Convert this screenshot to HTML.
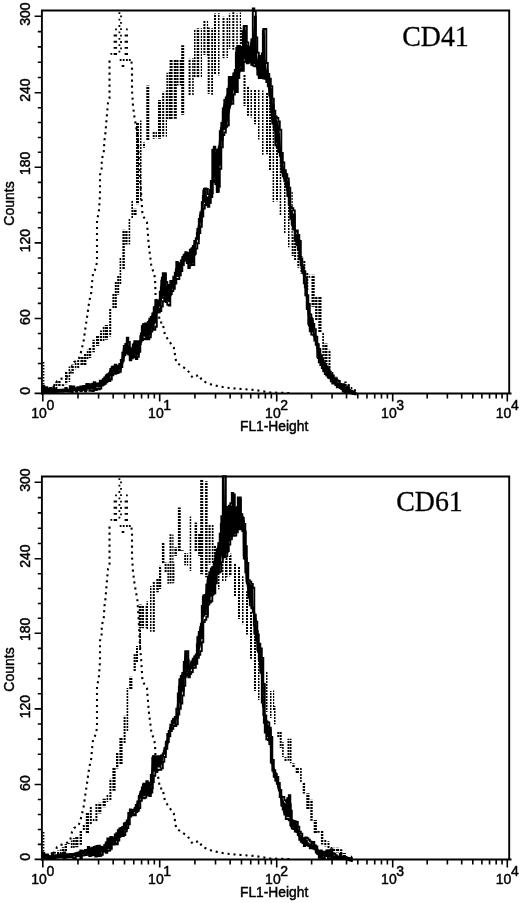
<!DOCTYPE html>
<html><head><meta charset="utf-8"><title>CD41 / CD61 flow cytometry histograms</title>
<style>
html,body{margin:0;padding:0;background:#fff;}
svg{display:block;filter:grayscale(100%);}
.ax{fill:none;stroke:#000;stroke-width:1.9;}
.tk{fill:none;stroke:#000;stroke-width:1.6;}
.c1{fill:none;stroke:#000;stroke-width:2.1;stroke-dasharray:2.1 3.9;}
.c2{fill:url(#stripes);stroke:none;}
.c1d{fill:#000;stroke:none;}
.c3f{fill:#000;stroke:none;}
.c3{fill:none;stroke:#000;stroke-width:1.8;stroke-linejoin:miter;}
.c3e{fill:none;stroke:#000;stroke-width:1.9;stroke-linejoin:miter;stroke-miterlimit:2;}
text{font-family:"Liberation Sans",sans-serif;fill:#000;stroke:#000;stroke-width:0.45px;}
.yl{font-size:14px;text-anchor:middle;}
.xl{font-size:14px;}
.fl{font-size:13.8px;}
.cd{font-family:"Liberation Serif",serif;font-size:29px;stroke-width:0.3px;}
</style></head>
<body>
<svg width="520" height="903" viewBox="0 0 520 903">
<rect width="520" height="903" fill="#fff"/>
<defs><pattern id="stripes" patternUnits="userSpaceOnUse" width="12" height="3"><rect x="0" y="0" width="12" height="2.05" fill="#000"/></pattern></defs>
<path d="M41.9 394.4V10.5H509.2V393.5" class="ax"/>
<path d="M41 393.5H511.5" class="ax"/>
<path d="M34.6 393.4H41.9M37.8 378.42H41.9M37.8 363.44H41.9M37.8 348.46H41.9M37.8 333.48H41.9M34.6 318.5H41.9M37.8 303.38H41.9M37.8 288.26H41.9M37.8 273.14H41.9M37.8 258.02H41.9M34.6 242.9H41.9M37.8 227.76H41.9M37.8 212.62H41.9M37.8 197.48H41.9M37.8 182.34H41.9M34.6 167.2H41.9M37.8 152.32H41.9M37.8 137.44H41.9M37.8 122.56H41.9M37.8 107.68H41.9M34.6 92.8H41.9M37.8 77.5H41.9M37.8 62.2H41.9M37.8 46.9H41.9M37.8 31.6H41.9M34.6 16.3H41.9" class="tk"/>
<path d="M42.8 393.5V401.5M77.99 393.5V398.5M98.58 393.5V398.5M113.18 393.5V398.5M124.51 393.5V398.5M133.77 393.5V398.5M141.59 393.5V398.5M148.37 393.5V398.5M154.35 393.5V398.5M159.7 393.5V401.5M194.92 393.5V398.5M215.52 393.5V398.5M230.14 393.5V398.5M241.48 393.5V398.5M250.74 393.5V398.5M258.58 393.5V398.5M265.36 393.5V398.5M271.35 393.5V398.5M276.7 393.5V401.5M311.62 393.5V398.5M332.05 393.5V398.5M346.54 393.5V398.5M357.78 393.5V398.5M366.97 393.5V398.5M374.73 393.5V398.5M381.46 393.5V398.5M387.39 393.5V398.5M392.7 393.5V401.5M427.2 393.5V398.5M447.38 393.5V398.5M461.7 393.5V398.5M472.8 393.5V398.5M481.88 393.5V398.5M489.55 393.5V398.5M496.19 393.5V398.5M502.06 393.5V398.5M507.3 393.5V401.5" class="tk"/>
<text class="yl" transform="translate(29.8 390.75) rotate(-90)">0</text>
<text class="yl" transform="translate(29.8 317.1) rotate(-90)">60</text>
<text class="yl" transform="translate(29.8 240.6) rotate(-90)">120</text>
<text class="yl" transform="translate(29.8 163.4) rotate(-90)">180</text>
<text class="yl" transform="translate(29.8 90.15) rotate(-90)">240</text>
<text class="yl" transform="translate(29.8 14.15) rotate(-90)">300</text>
<text class="yl" transform="translate(14 203.5) rotate(-90)">Counts</text>
<text class="xl" x="31.2" y="417.6">10</text>
<text class="xl" x="46.4" y="409.8">0</text>
<text class="xl" x="148.1" y="417.6">10</text>
<text class="xl" x="163.3" y="409.8">1</text>
<text class="xl" x="265.1" y="417.6">10</text>
<text class="xl" x="280.3" y="409.8">2</text>
<text class="xl" x="381.1" y="417.6">10</text>
<text class="xl" x="396.3" y="409.8">3</text>
<text class="xl" x="495.7" y="417.6">10</text>
<text class="xl" x="510.9" y="409.8">4</text>
<text class="fl" x="240" y="430.9">FL1-Height</text>
<path d="M42.8 393 L45 390 L50 388 L55 386 L57 381 L60 379 L65 378 L68 376 L70 375 L72 366 L74 362 L78 360 L80 356 L82 348 L83.75 340 L85 331 L86.25 322.5 L87.5 314 L88.75 305 L90 298 L91.25 292.5 L92 283 L93.25 272 L95 270 L97 262.5 L97 240 L97 220 L98.75 212.5 L100 195 L100 175 L102.5 165 L101.25 161.25 L103.75 152.5 L104.5 140 L105.5 132.5 L106.25 122.5 L108 103 L109.5 98 L109.5 59.5" class="c1"/>
<path d="M131.5 61.6 L132 68 L132 90.5 L133 105.5 L134.5 117.5 L136.25 127.5 L137.5 135 L139 160 L140 180 L141.25 195 L142.5 215 L147 222.5 L148.75 245 L151.25 265 L155 277.5 L155.5 292.5 L155.5 297 L158 310 L160 322.5 L162.5 322.5 L165 335 L170 342.5 L173.75 347.5 L175 355 L176.25 362.5 L180 365 L187.5 370 L192.5 377.5 L198.75 375 L202.5 381 L212.5 385 L225 387.5 L237.5 388.75 L255 390 L270 392.5 L290 393" class="c1"/>
<path d="M42.8 362h1.6v1.5h-1.6zM42.8 365h1.6v1.5h-1.6zM42.8 368h1.6v1.5h-1.6zM42.8 371h1.6v1.5h-1.6zM42.8 374h1.6v1.5h-1.6zM42.8 377h1.6v1.5h-1.6zM42.8 380h1.6v1.5h-1.6zM42.8 383h1.6v1.5h-1.6zM42 385h3.2V393h-3.2z" class="c1d"/>
<path d="M118.5 12.3h1.8v1.8h-1.8zM120.1 15.5h1.8v1.8h-1.8zM118.5 18.7h1.8v1.8h-1.8zM120.1 21.9h1.8v1.8h-1.8zM118.5 25.1h1.8v1.8h-1.8zM120.1 28.3h1.8v1.8h-1.8zM118.5 31.5h1.8v1.8h-1.8zM120.1 34.7h1.8v1.8h-1.8zM118.5 37.9h1.8v1.8h-1.8zM120.1 41.1h1.8v1.8h-1.8zM118.5 44.3h1.8v1.8h-1.8zM120.1 47.5h1.8v1.8h-1.8zM118.5 50.7h1.8v1.8h-1.8zM113.6 34.6h3.5v1.9h-3.5zM124.6 34.6h3.4v1.9h-3.4zM113.6 40.8h3.5v1.9h-3.5zM124.6 40.8h3.4v1.9h-3.4zM113.6 46.9h3.5v1.9h-3.5zM124.6 46.9h3.4v1.9h-3.4zM115.1 28.4h1.8v1.8h-1.8zM126 28.4h1.8v1.8h-1.8zM110.4 53h1.8v1.8h-1.8zM113.6 53h3.5v1.9h-3.5zM124.6 53h3.4v1.9h-3.4zM119.7 59.1h1.8v1.8h-1.8zM122.8 59.1h1.8v1.8h-1.8zM126 59.1h1.8v1.8h-1.8zM128.9 59.1h1.8v1.8h-1.8zM121.7 65.1h2.6v1.8h-2.6z" class="c1d"/>
<path d="M42 392.78h2V394.28h-2zM44.8 387.84h3.2V392.78h-3.2zM49 386.18h3.2V392.11h-3.2zM53.4 383.36h1.6V388.98h-1.6zM55.4 382h2V388.98h-2zM58.2 380.44h2.4V386.88h-2.4zM61.8 384.28h2.4V386.88h-2.4zM65 370.98h2.4V384.28h-2.4zM68.6 366.42h1.6V381.97h-1.6zM71.4 364.51h2.4V373.5h-2.4zM74.8 361.52h1.6V369.34h-1.6zM77.2 360.09h2V368.76h-2zM80.4 356.89h3.2V365.56h-3.2zM84 354.06h2.4V365.56h-2.4zM86.8 349.69h1.6V360.01h-1.6zM88.8 347.2h2.4V357.96h-2.4zM92.4 339.87h2.4V352.35h-2.4zM96 335.9h3.2V346.1h-3.2zM100 330.41h2V341.99h-2zM102.8 326.56h1.6V341.99h-1.6zM104.8 324.88h3.2V339.76h-3.2zM109.2 308.23h2V336.47h-2zM112.4 293.76h2V308.53h-2zM114.8 281.74h2V308.53h-2zM117.2 275.23h2V294.72h-2zM119.6 257.7h1.6V283.99h-1.6zM122.4 229.7h2.4V269.78h-2.4zM125.2 230.16h2.4V244.54h-2.4zM128.6 218.49h1.6V244.54h-1.6zM131.4 200.3h1.6V218.49h-1.6zM133.4 208.75h3.2V214.93h-3.2zM136 122.69h3V204.19h-3zM140 120.47h1.5V199.87h-1.5zM143 142.44h2V147.83h-2zM146.3 85.38h3V139.98h-3zM152.7 131.62h2V138.7h-2zM155.5 131.59h1.5V138.34h-1.5zM158 100h3V138.7h-3zM162.2 91.82h2V136.42h-2zM165.8 90.81h1.2V136.8h-1.2zM166.4 72.83h1.5V119.58h-1.5zM168.7 72.08h1.2V119.59h-1.2zM169.6 59.64h3V119.26h-3zM173.8 59.18h3V118.76h-3zM177 59.72h1.5V85.58h-1.5zM179.7 59.67h1.5V85.15h-1.5zM181.2 45.28h3V114.85h-3zM188.6 58.87h2V95.8h-2zM192.2 58.37h1.5V96.06h-1.5zM194 29.03h1.5V77.7h-1.5zM196.7 28.27h2.5V77.98h-2.5zM200.8 28.27h1.2V77.59h-1.2zM203.4 20.35h2V55.1h-2zM206.9 20.87h1.2V55.55h-1.2zM207.7 27.58h2V94.02h-2zM211.2 28.33h1.8V94.69h-1.8zM214 13.4h2V74.28h-2zM218 13.18h1.5V75.39h-1.5zM222.5 16.69h2V58.34h-2zM226.5 17.97h1.5V57.89h-1.5zM228.8 13.56h1.5V49.02h-1.5zM232.3 12.32h2V49.64h-2zM236.3 13.58h1.5V49.97h-1.5zM239.8 12.46h1.2V49.8h-1.2zM240.4 28.22h1.5V44.23h-1.5zM243.5 74.26h2V105.97h-2zM247 86.42h2V115.87h-2zM250.5 89.79h1.5V117.56h-1.5zM254 89.96h2V124.22h-2zM258 89.47h1.5V139.43h-1.5zM262 90.46h1.5V154.79h-1.5zM266 92.41h2V154.25h-2zM269 100.17h2V169.99h-2zM272.6 115.81h1.5V201.93h-1.5zM276 126.2h2V201.16h-2zM279.7 151.04h1.5V214.9h-1.5zM284 170.62h1.5V233.56h-1.5zM288 190.37h1.5V247.26h-1.5zM291.5 191.35h1.2V246.6h-1.2zM291.7 235.4h2V256h-2zM294.1 235.4h2V260.42h-2zM297.3 249.59h2V267.7h-2zM300.5 255.93h2V273.5h-2zM303.3 261.05h2V281.12h-2zM306.3 272.76h2V290.6h-2zM308.7 274.68h1.6V277.77h-1.6zM311.5 274.68h3.2V306.8h-3.2zM315.1 296.18h2.4V320.14h-2.4zM318.3 296.18h3.2V332.17h-3.2zM322.3 332.17h1.6V359.51h-1.6zM324.3 343.46h3.2V363.9h-3.2zM328.5 349.76h2V371.92h-2zM331.7 371.92h1.6V378.83h-1.6zM334.3 376.63h3.2V380.05h-3.2zM338.3 380.05h1.6V384.73h-1.6zM340.7 384.44h2.4V385.99h-2.4zM344.3 381.47h2.4V387.78h-2.4zM347.7 383.46h2V389.74h-2zM350.7 386.99h1.6V391.07h-1.6z" class="c2"/>
<path d="M42.8 389 L45.2 389.8 L50.4 390.2 L57.3 390 L62.5 389.6 L69 389.6 L69.5 388.4 L74.6 388.3 L79.8 388.2 L85 388.03 L85.8 388 L86.3 384 L91.9 384.6 L97.1 383.62 L98.8 383.3 L102.3 379.8 L104 377.74 L106.6 374.6 L109.2 372.9 L110.9 366.8 L114.4 366.4 L117 366.1 L117.9 366 L120 362.79 L121.3 360.8 L123 346.9 L123.9 345.73 L126 343 L126.5 341.15 L127.7 336.7 L129.6 353 L133.5 342.5 L137.3 343.17 L139.2 343.5 L140.2 336.84 L142.1 324.2 L146.9 323.3 L148.8 320.25 L150.8 317.04 L151.7 315.6 L155.6 302.1 L155.7 302.07 L158.5 301.2 L161.3 280.64 L162.3 273.3 L163.3 273.3 L165.2 273.3 L166.2 287.7 L169 284.85 L170 283.83 L171.9 281.9 L174.8 274.2 L176.7 261.7 L178.7 264.6 L179.6 262.78 L182.5 256.9 L183.5 255.24 L185.4 252.1 L188.3 254 L193.1 245.4 L194 243.01 L196 237.7 L196.9 231.7 L198.8 219.03 L199 217.7 L200.6 211.1 L202.3 198.5 L203.6 188.5 L206.2 188.5 L206.9 197.2 L207.6 196.62 L209.3 195.2 L210.3 182.6 L210.9 182.07 L211.9 181.2 L212.3 149.6 L212.6 149.6 L214.9 149.6 L215.5 149.6 L215.8 149.6 L216 166 L217.9 166 L218.2 150 L218.6 144.58 L218.9 140.52 L219.5 132.4 L220.5 128.7 L220.9 127.22 L221.5 125 L222.5 112.33 L223 106 L226.9 94 L227.3 90.61 L228.3 82.14 L228.8 77.9 L232 77 L232.8 74.85 L234 71.62 L234.6 70 L235.5 70 L236.8 47.73 L237.5 47.59 L240 47.08 L240.4 47 L242.5 47 L242.8 26 L244.2 26 L245.5 26 L247 45 L247.6 48 L248 50 L249.5 48.5 L250 48 L251.4 38.67 L251.5 38 L252.6 38 L255.6 11 L255.8 37.55 L256.7 49 L258.2 64 L259.6 56 L261.5 56 L261.8 56 L264.8 29 L265.4 57.4 L266.8 70 L267.3 72 L268.3 76 L270 80.47 L270.2 81 L270.9 90 L271.8 97.1 L274.4 114.8 L275.3 116.8 L278 122.8 L279.7 130.8 L281.5 155.6 L284.2 169.8 L286.8 177.01 L287.7 179.5 L288.6 186.15 L289.5 192.8 L290.4 208.8 L293 212.74 L293.9 214.1 L294.8 231.8 L295.7 232.73 L298 235.09 L298.3 235.4 L300.1 248 L301.4 267.6 L302.3 268.94 L304.9 272.8 L306.6 295.3 L309.2 312.5 L312.6 322.9 L315.2 336.7 L317 343.8 L318.7 350.5 L319.5 352.95 L322.1 360.9 L324.7 364.35 L327.3 367.8 L329.9 373 L331.6 376.4 L336.8 381.6 L343.7 386.8 L352.4 392 L356 393 L356 395 L352.4 394 L343.7 389.92 L336.8 385.74 L331.6 380.54 L329.9 378.16 L327.3 374.52 L324.7 371.58 L322.1 367.62 L319.5 361.86 L318.7 359.56 L317 354.06 L315.2 338.8 L312.6 332.81 L309.2 328.04 L306.6 305.62 L304.9 287.32 L302.3 272.27 L301.4 269.6 L300.1 258.62 L298.3 249.26 L298 248.42 L295.7 240.69 L294.8 238.2 L293.9 229 L293 226.33 L290.4 218.4 L289.5 207.74 L288.6 200.82 L287.7 193.9 L286.8 188.64 L284.2 179.34 L281.5 169.46 L279.7 149.94 L278 145.51 L275.3 141.16 L274.4 127.58 L271.8 122.66 L270.9 114.42 L270.2 106.93 L270 104.98 L268.3 90 L267.3 82.5 L266.8 81.58 L265.4 79 L264.8 78.85 L261.8 78.08 L261.5 78 L259.6 78 L258.2 78 L256.7 69.25 L255.8 64 L255.6 64.05 L252.6 64.73 L251.5 64.98 L251.4 65 L250 61.32 L249.5 60 L248 63.16 L247.6 64 L247 62.94 L245.5 60.29 L244.2 58 L242.8 70 L242.5 69.57 L240.4 66.57 L240 66 L237.5 79 L236.8 91.9 L235.5 89.62 L234.6 88.05 L234 87 L232.8 99.8 L232 103.04 L228.8 115.22 L228.3 115.49 L227.3 128.28 L226.9 127.84 L223 129.38 L222.5 132.53 L221.5 142.85 L220.9 146.89 L220.5 162.24 L219.5 163.94 L218.9 167.33 L218.6 179.69 L218.2 181.86 L217.9 188.26 L216 188.26 L215.8 181.7 L215.5 181.7 L214.9 174.14 L212.6 176.54 L212.3 177.45 L211.9 191.3 L210.9 194.69 L210.3 195.55 L209.3 201.69 L207.6 204.11 L206.9 204.76 L206.2 201.7 L203.6 203.26 L202.3 211.47 L200.6 222.01 L199 229.83 L198.8 231.01 L196.9 242.2 L196 246.39 L194 252.48 L193.1 262.14 L188.3 263.84 L185.4 259.6 L183.5 258.58 L182.5 262.19 L179.6 273.11 L178.7 274.71 L176.7 275.47 L174.8 282.3 L171.9 289.55 L170 293.05 L169 300.42 L166.2 301.56 L165.2 295.8 L163.3 295.8 L162.3 297.81 L161.3 302.76 L158.5 310.11 L155.7 309.59 L155.6 321.12 L151.7 328.42 L150.8 329.44 L148.8 336.48 L146.9 337.2 L142.1 336.28 L140.2 340.84 L139.2 347.47 L137.3 354.89 L133.5 354.62 L129.6 358.82 L127.7 349.98 L126.5 350.3 L126 351.34 L123.9 353.69 L123 356 L121.3 365.04 L120 368.5 L117.9 371.46 L117 372.22 L114.4 371.86 L110.9 374.81 L109.2 378.6 L106.6 380.57 L104 383.12 L102.3 384.32 L98.8 386.52 L97.1 387.03 L91.9 387.65 L86.3 387.66 L85.8 390 L85 390.03 L79.8 390.2 L74.6 390.3 L69.5 390.49 L69 391.6 L62.5 391.6 L57.3 392 L50.4 392.2 L45.2 391.8 L42.8 391.4Z" class="c3f"/>
<path d="M42.8 391.59H43.8V391.68H44.8V389.84H45.8V389.88H46.8V390.06H47.8V391.77H48.8V390.08H49.8V390.24H50.8V390.35H51.8V392H52.8V390.16H53.8V391.91H54.8V390.27H55.8V391.93H56.8V390.13H57.8V391.7H58.8V390.06H59.8V391.66H60.8V391.61H61.8V391.49H62.8V389.68H63.8V391.4H64.8V389.61H65.8V391.42H66.8V389.72H67.8V391.58H68.8V391.48H69.8V388.65H70.8V388.64H71.8V388.58H72.8V388.56H73.8V388.35H74.8V390.02H75.8V389.99H76.8V390.05H77.8V390.11H78.8V389.96H79.8V388.25H80.8V390.12H81.8V388.31H82.8V389.9H83.8V388.29H84.8V389.99H85.8V389.96H86.8V384.37H87.8V384.47H88.8V388.06H89.8V384.79H90.8V388.08H91.8V388.03H92.8V384.7H93.8V387.85H94.8V384.41H95.8V384.02H96.8V383.7H97.8V383.65H98.8V386.54H99.8V386.34H100.8V381.64H101.8V385.1H102.8V379.31H103.8V383.4H104.8V377.58H105.8V381.54H106.8V375.25H107.8V380.48H108.8V379.02H109.8V371.08H110.8V375.2H111.8V374.43H112.8V367.12H113.8V367.03H114.8V372.29H115.8V366.71H116.8V373.19H117.8V371.58H118.8V365.3H119.8V368.96H120.8V366.43H121.8V362.67H122.8V357.13H123.8V354.67H124.8V345.84H125.8V352.54H126.8V341.8H127.8V352.1H128.8V347.28H129.8V359.54H130.8V349.8H131.8V357.05H132.8V345.81H133.8V355.83H134.8V355.47H135.8V356.57H136.8V344.84H137.8V354.17H138.8V349.81H139.8V344.14H140.8V333.34H141.8V338.23H142.8V324.79H143.8V324.12H144.8V323.75H145.8V339H146.8V324.34H147.8V338.07H148.8V321.21H149.8V334.47H150.8V317.77H151.8V316.36H152.8V328.61H153.8V308.46H154.8V322.51H155.8V310.86H156.8V301.85H157.8V310.6H158.8V310.39H159.8V308.91H160.8V287.48H161.8V277.63H162.8V297.91H163.8V298.02H164.8V274.38H165.8V300.71H166.8V287.85H167.8V288.46H168.8V301.04H169.8V295.39H170.8V283.49H171.8V282.49H172.8V287.78H173.8V277.56H174.8V282.38H175.8V269.39H176.8V276.21H177.8V264.43H178.8V275.36H179.8V264.04H180.8V268.85H181.8V264.93H182.8V256.58H183.8V255.31H184.8V259.45H185.8V253.44H186.8V254.41H187.8V263.24H188.8V253.94H189.8V252.2H190.8V264.22H191.8V248.11H192.8V262.65H193.8V255.04H194.8V241.71H195.8V239.11H196.8V232.73H197.8V238.48H198.8V232.27H199.8V215.46H200.8V221.28H201.8V215.01H202.8V195.86H203.8V188.98H204.8V190.18H205.8V203.14H206.8V205.11H207.8V197.67H208.8V203.15H209.8V189.85H210.8V195.47H211.8V193.23H212.8V177.66H213.8V152.96H214.8V177.83H215.8V154.45H216.8V190.12H217.8V191.53H218.8V146.31H219.8V164.75H220.8V128.21H221.8V139.8H222.8V112.22H223.8V129.05H224.8V128.18H225.8V97.86H226.8V95.54H227.8V112.08H228.8V79.43H229.8V80.82H230.8V80.23H231.8V77.83H232.8V76.58H233.8V88.88H234.8V85.67H235.8V52.82H236.8V53.19H237.8V76.82H238.8V71.69H239.8V48.56H240.8V65.26H241.8V48.98H242.8V31.21H243.8V31.24H244.8V57.77H245.8V59.87H246.8V45.74H247.8V49.73H248.8V49.39H249.8V60.31H250.8V43.6H251.8V40.47H252.8V60.06H253.8V56.97H254.8V16.64H255.8V61.75H256.8V67.87H257.8V60.32H258.8V76.91H259.8V77.7H260.8V56.88H261.8V76.58H262.8V30.77H263.8V74.53H264.8V72H265.8V77.64H266.8V70.58H267.8V75.72H268.8V79.15H269.8V95.87H270.8V89.24H271.8V118.93H272.8V105.18H273.8V125.52H274.8V116.12H275.8V142.41H276.8V122.66H277.8V145.94H278.8V149.58H279.8V152.42H280.8V163.39H281.8V172.48H282.8V174.26H283.8V178.18H284.8V172.84H285.8V185.93H286.8V189.88H287.8V182.54H288.8V203.76H289.8V211.44H290.8V211.02H291.8V222.93H292.8V227.67H293.8V214.8H294.8V238.8H295.8V241.09H296.8V245H297.8V235.73H298.8V240.69H299.8V257.21H300.8V264.63H301.8V270.81H302.8V270.14H303.8V272.72H304.8V287.47H305.8V286.6H306.8V307.76H307.8V304.06H308.8V325.59H309.8V329.65H310.8V317.67H311.8V321.47H312.8V325.4H313.8V336.13H314.8V338.01H315.8V344.54H316.8V343.75H317.8V358.02H318.8V351.17H319.8V354.55H320.8V357.37H321.8V360.93H322.8V368.77H323.8V370.32H324.8V364.56H325.8V366.86H326.8V375.07H327.8V369.58H328.8V377.05H329.8V378.02H330.8V375.33H331.8V377.19H332.8V382.23H333.8V379.24H334.8V380.29H335.8V385.13H336.8V385.81H337.8V386.53H338.8V387.11H339.8V384.05H340.8V385.11H341.8V389.27H342.8V386.68H343.8V390.37H344.8V390.67H345.8V388.26H346.8V389.01H347.8V389.56H348.8V390.02H349.8V392.32H350.8V391.09H351.8V393.58H352.8V393.89H353.8V394.15H354.8V394.4H355.8V393.22H356.8" class="c3"/>
<path d="M42.8 389H44.3V389.5H45.8V387.12H47.3V389.3H48.8V390.08H50.3V390.19H51.8V388.45H53.3V388.89H54.8V390.07H56.3V390.03H57.8V389.96H59.3V389.85H60.8V389.73H62.3V389.62H63.8V389.6H65.3V388.01H66.8V389.6H68.3V389.6H69.8V386.1H71.3V388.37H72.8V386.48H74.3V388.31H75.8V388.28H77.3V387.24H78.8V388.22H80.3V386.56H81.8V388.13H83.3V386.06H84.8V388.03H86.3V384H87.8V384.16H89.3V384.32H90.8V384.48H92.3V383.74H93.8V382.14H95.3V383.96H96.8V383.68H98.3V383.39H99.8V380.74H101.3V380.8H102.8V379.2H104.3V377.38H105.8V375.57H107.3V374.14H108.8V373.16H110.3V368.95H111.8V366.7H113.3V366.53H114.8V364.61H116.3V366.18H117.8V366.01H119.3V363.86H120.8V359.9H122.3V352.62H123.8V345.86H125.3V343.91H126.8V337.65H128.3V341.85H129.8V350.1H131.3V348.42H132.8V344.38H134.3V341.12H135.8V342.9H137.3V341.28H138.8V343.43H140.3V336.18H141.8V326.2H143.3V323.97H144.8V323.69H146.3V323.41H147.8V321.86H149.3V318.65H150.8V317.04H152.3V313.52H153.8V307.26H155.3V300.27H156.8V301.73H158.3V300.36H159.8V291.66H161.3V280.64H162.8V273.3H164.3V273.3H165.8V281.94H167.3V286.58H168.8V285.05H170.3V280.88H171.8V282H173.3V276.74H174.8V272.65H176.3V261.85H177.8V263.3H179.3V263.38H180.8V260.34H182.3V257.31H183.8V254.75H185.3V252.27H186.8V253.02H188.3V254H189.8V249.59H191.3V248.62H192.8V245.94H194.3V241.02H195.8V238.23H197.3V229.03H198.8V219.03H200.3V212.34H201.8V202.21H203.3V190.81H204.8V188.5H206.3V188.98H207.8V194.13H209.3V195.2H210.8V181.06H212.3V149.6H213.8V146.61H215.3V149.6H216.8V166H218.3V148.65H219.8V131.29H221.3V123.04H222.8V108.53H224.3V99.98H225.8V97.38H227.3V88.83H228.8V76.88H230.3V77.48H231.8V77.06H233.3V73.5H234.8V70H236.3V47.84H237.8V45.9H239.3V47.22H240.8V47H242.3V47H243.8V26H245.3V26H246.8V42.41H248.3V49.7H249.8V46.77H251.3V39.33H252.8V8.38H254.3V11H255.8V37.55H257.3V52.6H258.8V60.57H260.3V56H261.8V53.37H263.3V29H264.8V29H266.3V63.06H267.8V74H269.3V78.63H270.8V86.22H272.3V98.77H273.8V110.72H275.3V116.8H276.8V117.87H278.3V121.4H279.8V129.76H281.3V152.84H282.8V162.44H284.3V170.08H285.8V174.23H287.3V178.39H288.8V187.63H290.3V207.02H291.8V208.29H293.3V210.41H294.8V231.8H296.3V230.57H297.8V234.89H299.3V240.96H300.8V258.55H302.3V266.64H303.8V271.17H305.3V277.51H306.8V295.19H308.3V304.01H309.8V314.34H311.3V318.92H312.8V323.96H314.3V329.18H315.8V336.8H317.3V344.29H318.8V348.95H320.3V355.39H321.8V359.31H323.3V362.49H324.8V364.48H326.3V366.47H327.8V368.8H329.3V371.8H330.8V374.8H332.3V375.36H333.8V378.6H335.3V378.09H336.8V380.45H338.3V380.93H339.8V383.86H341.3V384.99H342.8V384.25H344.3V387.16H345.8V388.06H347.3V386.39H348.8V389.85H350.3V390.74H351.8V391.64H353.3V391.49H354.8V390.15H356" class="c3e"/>
<path d="M42.8 391.8H44.3V393H45.8V392.61H47.3V393H48.8V391.7H50.3V391.74H51.8V393H53.3V391.71H54.8V391.7H56.3V391.69H57.8V391.66H59.3V391.59H60.8V391.52H62.3V391.44H63.8V391.4H65.3V391.37H66.8V391.33H68.3V391.3H69.8V390.78H71.3V393H72.8V390.24H74.3V389.96H75.8V391.92H77.3V389.82H78.8V389.77H80.3V391.22H81.8V389.67H83.3V389.61H84.8V391.64H86.3V388.27H87.8V388.24H89.3V390.85H90.8V390.09H92.3V391.08H93.8V387.95H95.3V390.14H96.8V388.53H98.3V389.26H99.8V388.62H101.3V385.64H102.8V384.77H104.3V383.73H105.8V382.32H107.3V381.02H108.8V381.04H110.3V379.51H111.8V375.27H113.3V373.83H114.8V373.74H116.3V373.11H117.8V372.47H119.3V371.81H120.8V367.17H122.3V360.91H123.8V355.3H125.3V353.49H126.8V351.92H128.3V354.59H129.8V360.3H131.3V358.42H132.8V357.21H134.3V356.68H135.8V359.07H137.3V356.84H138.8V351.91H140.3V341.33H141.8V340.01H143.3V338.6H144.8V338.98H146.3V339.36H147.8V339.36H149.3V337.26H150.8V331.5H152.3V329.59H153.8V329.89H155.3V326.69H156.8V312.64H158.3V312.24H159.8V311.08H161.3V306.44H162.8V301.24H164.3V299.55H165.8V302.14H167.3V304.87H168.8V305.55H170.3V294H171.8V291.02H173.3V288.74H174.8V283.65H176.3V279.01H177.8V279.05H179.3V275.35H180.8V270.94H182.3V265.01H183.8V259.4H185.3V260.76H186.8V263.09H188.3V268.12H189.8V265.31H191.3V265.14H192.8V264.96H194.3V253.69H195.8V248.46H197.3V243.31H198.8V233.01H200.3V226.75H201.8V216.63H203.3V208.66H204.8V204.88H206.3V204.2H207.8V206.88H209.3V202.77H210.8V196.95H212.3V182.09H213.8V179.57H215.3V184.11H216.8V191.97H218.3V186.76H219.8V168.79H221.3V147.27H222.8V135.17H224.3V132.49H225.8V126.6H227.3V125.36H228.8V104.55H230.3V103.84H231.8V103.8H233.3V94.47H234.8V88.4H236.3V92.06H237.8V78.06H239.3V70.9H240.8V68.51H242.3V70.72H243.8V61.98H245.3V59.94H246.8V63.33H248.3V62.53H249.8V60.79H251.3V64.74H252.8V65.62H254.3V66.31H255.8V64H257.3V74.43H258.8V78H260.3V78H261.8V78.08H263.3V78.46H264.8V78.85H266.3V82.13H267.8V86.25H269.3V95.61H270.8V109.75H272.3V123.44H273.8V130.24H275.3V145.22H276.8V147.48H278.3V152.01H279.8V155.76H281.3V169.7H282.8V176.18H284.3V181.3H285.8V186.87H287.3V196.11H288.8V204.81H290.3V218.91H291.8V224.63H293.3V229.56H294.8V239.27H296.3V244.27H297.8V249.89H299.3V259.27H300.8V265.52H302.3V272.83H303.8V283.2H305.3V295.19H306.8V309.13H308.3V323.71H309.8V331.31H311.3V334.67H312.8V334.82H314.3V340.45H315.8V344.69H317.3V356.7H318.8V362.32H320.3V365H321.8V368.12H323.3V371.39H324.8V374.02H326.3V375.5H327.8V377.65H329.3V378.24H330.8V381.21H332.3V383.5H333.8V383.43H335.3V384.93H336.8V387.2H338.3V387.3H339.8V388.17H341.3V389.05H342.8V391.66H344.3V393H345.8V391H347.3V393H348.8V391.79H350.3V393H351.8V392.58H353.3V392.89H354.8V393H356" class="c3e"/>
<text class="cd" x="402.2" y="46.3" textLength="66.6" lengthAdjust="spacingAndGlyphs">CD41</text>
<path d="M41.9 860.4V476.5H509.2V859.5" class="ax"/>
<path d="M41 859.5H511.5" class="ax"/>
<path d="M34.6 859.4H41.9M37.8 844.42H41.9M37.8 829.44H41.9M37.8 814.46H41.9M37.8 799.48H41.9M34.6 784.5H41.9M37.8 769.38H41.9M37.8 754.26H41.9M37.8 739.14H41.9M37.8 724.02H41.9M34.6 708.9H41.9M37.8 693.76H41.9M37.8 678.62H41.9M37.8 663.48H41.9M37.8 648.34H41.9M34.6 633.2H41.9M37.8 618.32H41.9M37.8 603.44H41.9M37.8 588.56H41.9M37.8 573.68H41.9M34.6 558.8H41.9M37.8 543.5H41.9M37.8 528.2H41.9M37.8 512.9H41.9M37.8 497.6H41.9M34.6 482.3H41.9" class="tk"/>
<path d="M42.8 859.5V867.5M77.99 859.5V864.5M98.58 859.5V864.5M113.18 859.5V864.5M124.51 859.5V864.5M133.77 859.5V864.5M141.59 859.5V864.5M148.37 859.5V864.5M154.35 859.5V864.5M159.7 859.5V867.5M194.92 859.5V864.5M215.52 859.5V864.5M230.14 859.5V864.5M241.48 859.5V864.5M250.74 859.5V864.5M258.58 859.5V864.5M265.36 859.5V864.5M271.35 859.5V864.5M276.7 859.5V867.5M311.62 859.5V864.5M332.05 859.5V864.5M346.54 859.5V864.5M357.78 859.5V864.5M366.97 859.5V864.5M374.73 859.5V864.5M381.46 859.5V864.5M387.39 859.5V864.5M392.7 859.5V867.5M427.2 859.5V864.5M447.38 859.5V864.5M461.7 859.5V864.5M472.8 859.5V864.5M481.88 859.5V864.5M489.55 859.5V864.5M496.19 859.5V864.5M502.06 859.5V864.5M507.3 859.5V867.5" class="tk"/>
<text class="yl" transform="translate(29.8 856.75) rotate(-90)">0</text>
<text class="yl" transform="translate(29.8 783.1) rotate(-90)">60</text>
<text class="yl" transform="translate(29.8 706.6) rotate(-90)">120</text>
<text class="yl" transform="translate(29.8 629.4) rotate(-90)">180</text>
<text class="yl" transform="translate(29.8 556.15) rotate(-90)">240</text>
<text class="yl" transform="translate(29.8 480.15) rotate(-90)">300</text>
<text class="yl" transform="translate(14 669.5) rotate(-90)">Counts</text>
<text class="xl" x="31.2" y="883.6">10</text>
<text class="xl" x="46.4" y="875.8">0</text>
<text class="xl" x="148.1" y="883.6">10</text>
<text class="xl" x="163.3" y="875.8">1</text>
<text class="xl" x="265.1" y="883.6">10</text>
<text class="xl" x="280.3" y="875.8">2</text>
<text class="xl" x="381.1" y="883.6">10</text>
<text class="xl" x="396.3" y="875.8">3</text>
<text class="xl" x="495.7" y="883.6">10</text>
<text class="xl" x="510.9" y="875.8">4</text>
<text class="fl" x="240" y="896.9">FL1-Height</text>
<path d="M42.8 859 L45 856 L50 854 L55 852 L57 847 L60 845 L65 844 L68 842 L70 841 L72 832 L74 828 L78 826 L80 822 L82 814 L83.75 806 L85 797 L86.25 788.5 L87.5 780 L88.75 771 L90 764 L91.25 758.5 L92 749 L93.25 738 L95 736 L97 728.5 L97 706 L97 686 L98.75 678.5 L100 661 L100 641 L102.5 631 L101.25 627.25 L103.75 618.5 L104.5 606 L105.5 598.5 L106.25 588.5 L108 569 L109.5 564 L109.5 525.5" class="c1"/>
<path d="M131.5 527.6 L132 534 L132 556.5 L133 571.5 L134.5 583.5 L136.25 593.5 L137.5 601 L139 626 L140 646 L141.25 661 L142.5 681 L147 688.5 L148.75 711 L151.25 731 L155 743.5 L155.5 758.5 L155.5 763 L158 776 L160 788.5 L162.5 788.5 L165 801 L170 808.5 L173.75 813.5 L175 821 L176.25 828.5 L180 831 L187.5 836 L192.5 843.5 L198.75 841 L202.5 847 L212.5 851 L225 853.5 L237.5 854.75 L255 856 L270 858.5 L290 859" class="c1"/>
<path d="M42.8 832h1.6v1.5h-1.6zM42.8 835h1.6v1.5h-1.6zM42.8 838h1.6v1.5h-1.6zM42.8 841h1.6v1.5h-1.6zM42.8 844h1.6v1.5h-1.6zM42.8 847h1.6v1.5h-1.6zM42.8 850h1.6v1.5h-1.6zM42 852h3.2V859.5h-3.2z" class="c1d"/>
<path d="M118.5 478.3h1.8v1.8h-1.8zM120.1 481.5h1.8v1.8h-1.8zM118.5 484.7h1.8v1.8h-1.8zM120.1 487.9h1.8v1.8h-1.8zM118.5 491.1h1.8v1.8h-1.8zM120.1 494.3h1.8v1.8h-1.8zM118.5 497.5h1.8v1.8h-1.8zM120.1 500.7h1.8v1.8h-1.8zM118.5 503.9h1.8v1.8h-1.8zM120.1 507.1h1.8v1.8h-1.8zM118.5 510.3h1.8v1.8h-1.8zM120.1 513.5h1.8v1.8h-1.8zM118.5 516.7h1.8v1.8h-1.8zM113.6 500.6h3.5v1.9h-3.5zM124.6 500.6h3.4v1.9h-3.4zM113.6 506.8h3.5v1.9h-3.5zM124.6 506.8h3.4v1.9h-3.4zM113.6 512.9h3.5v1.9h-3.5zM124.6 512.9h3.4v1.9h-3.4zM115.1 494.4h1.8v1.8h-1.8zM126 494.4h1.8v1.8h-1.8zM110.4 519h1.8v1.8h-1.8zM113.6 519h3.5v1.9h-3.5zM124.6 519h3.4v1.9h-3.4zM119.7 525.1h1.8v1.8h-1.8zM122.8 525.1h1.8v1.8h-1.8zM126 525.1h1.8v1.8h-1.8zM128.9 525.1h1.8v1.8h-1.8zM121.7 531.1h2.6v1.8h-2.6z" class="c1d"/>
<path d="M42 859.04h2.4V860.54h-2.4zM45.6 855.72h1.6V859.04h-1.6zM48 855.01h1.6V857.59h-1.6zM50.8 852.87h2V857.54h-2zM53.6 851.83h2.4V853.57h-2.4zM57 850.51h2V855.55h-2zM59.8 849.39h1.6V855.55h-1.6zM61.8 847.23h2.4V855h-2.4zM64.6 843.93h2.4V851.13h-2.4zM67.8 842h2V843.93h-2zM70.8 840.42h1.6V848.46h-1.6zM72.8 837.89h2V847.81h-2zM75.2 836.44h3.2V847.16h-3.2zM79.6 830.85h2.4V844.76h-2.4zM82.8 824.48h2V830.85h-2zM85.8 812.92h3.2V833.45h-3.2zM89.8 806.27h2V824.21h-2zM92.8 818.53h1.6V822.02h-1.6zM95.4 803.44h2V822.02h-2zM98.2 802.67h3.2V813.57h-3.2zM102.6 798.64h3.2V807.34h-3.2zM106.6 793.92h1.6V802.07h-1.6zM109.4 778.84h2V800.64h-2zM112.4 767.26h3.2V790.66h-3.2zM116 752.84h2.4V768.52h-2.4zM119.4 738.07h3.2V764.79h-3.2zM123.6 715.76h2V743.61h-2zM126.6 687.99h1.6V731.01h-1.6zM129.2 676.82h3.2V689.44h-3.2zM133.6 654.21h2.2V671.59h-2.2zM136 645.93h2V662.33h-2zM138.75 604.42h3V627.96h-3zM139.2 628.56h1.8V650.82h-1.8zM142 604.98h2V628.3h-2zM145.6 604.9h1.2V628.06h-1.2zM146.5 601.23h1.5V630.1h-1.5zM150 586.09h1.5V631.8h-1.5zM152.8 581.29h2V631.69h-2zM156.3 578.34h2.5V592.17h-2.5zM159 565.7h2.2V589h-2.2zM161.9 542.98h2.5V563.71h-2.5zM164.6 562.43h2V572.93h-2zM167.4 562.64h1.5V583.67h-1.5zM169.5 534.32h2V583.59h-2zM172.3 534.47h1.2V583.56h-1.2zM173 562.45h1.4V582.77h-1.4zM174.4 547.17h2.5V556.04h-2.5zM177.9 507.45h2.8V551.2h-2.8zM180.7 550.22h3V551.73h-3zM184.2 552.99h2V565.35h-2zM187 553.26h1.2V565.41h-1.2zM189.7 516.43h1.5V571.07h-1.5zM194.6 522.48h2.5V551.78h-2.5zM198.1 533.41h2.1V556.12h-2.1zM200.2 478.91h3V574.18h-3zM205.1 481.18h2.5V577.17h-2.5zM208.6 525h2V564.4h-2zM211.8 524.6h1.7V564.27h-1.7zM214 545.44h2V593.56h-2zM218 553.19h1.5V589.15h-1.5zM222 558.09h1.5V581.83h-1.5zM225 559.39h1.2V581.96h-1.2zM226 556.43h1.5V577.13h-1.5zM229 556.08h1.2V576.56h-1.2zM230 553.41h1.5V575.14h-1.5zM234 563.01h2V596.62h-2zM238 567.1h2V618.89h-2zM242 576.25h1.5V624.27h-1.5zM246 591.35h2V634.61h-2zM250 611.21h2V658.86h-2zM254 625.63h2V690.93h-2zM258 645.22h1.5V699.98h-1.5zM262 661.41h2V704.16h-2zM266 671.28h1.5V711.88h-1.5zM270 691.01h1.5V718.08h-1.5zM273 690.46h1.2V710.32h-1.2zM274 705.92h1.5V724.36h-1.5zM277.3 732.1h2V738h-2zM279.7 732.1h2V747.98h-2zM282.1 742.17h1.6V756.9h-1.6zM284.5 756.9h2V761.46h-2zM287.5 738.69h2V760.66h-2zM289.9 738.69h1.6V763.26h-1.6zM292.3 763.26h2.4V767.02h-2.4zM295.7 767.02h3.2V773.76h-3.2zM300.1 768.04h1.6V782.55h-1.6zM302.7 782.55h2.4V793.44h-2.4zM306.3 793.21h3.2V809.06h-3.2zM310.3 799.78h2.4V820.72h-2.4zM313.7 819.89h3.2V833.59h-3.2zM317.3 830.3h2.4V832.74h-2.4zM320.9 830.3h2.4V844.48h-2.4zM324.3 838.97h2V846.56h-2zM327.5 841.22h2V848.34h-2zM330.7 847.09h1.6V850.43h-1.6zM332.7 847.65h2.4V851.21h-2.4zM335.9 847.77h3.2V852.6h-3.2zM339.9 849.23h2.4V854.41h-2.4zM342.7 853h3.2V858.36h-3.2z" class="c2"/>
<path d="M42.8 856 L45.2 857 L50.4 856.2 L55.6 855.3 L60.8 854.4 L66 855.3 L74.6 853.6 L79.8 851.8 L85 850.6 L90.2 848.4 L91.9 847.76 L97.1 845.8 L99.7 846.65 L102.3 847.5 L109.2 838.9 L110.9 838.46 L112.7 838 L116.1 835.4 L118.7 830.27 L119.6 828.5 L121.3 827.65 L123 826.8 L123.5 825.59 L124.4 823.4 L126.5 821.6 L127.1 819.29 L129.7 809.3 L130.6 809.72 L133.3 811 L137.7 800.4 L140.4 791.84 L143 783.6 L144.8 783.6 L148.3 783.6 L150.1 783.6 L151.9 763.3 L152.7 756.2 L158.1 756.2 L159.8 756.2 L160.7 755.6 L162.5 754.4 L165.1 745.6 L167.8 734.95 L168.7 731.4 L171.3 722.86 L172.2 719.9 L175.9 715.8 L176.6 707.52 L177.7 694.5 L179.4 678.6 L180.3 676.83 L183 671.5 L184.7 651.2 L185.6 651.2 L187.4 651.2 L188.3 669.7 L191.8 660 L195.4 654.93 L196.2 653.8 L197.1 637.9 L198 634.8 L200.7 625.5 L201.5 611.76 L202.4 596.3 L203.3 596.3 L205 596.3 L206.9 579.5 L207.7 577.05 L210.4 568.8 L212.2 567.08 L212.6 566.7 L214.8 557.41 L215.7 553.61 L216.2 551.5 L216.7 549.67 L219.1 540.9 L220.3 528.64 L221.4 517.4 L222.3 517.4 L222.6 476.3 L224.6 476.3 L225 506.9 L226.7 506.9 L227.3 524.5 L228.5 505.7 L229.1 505.7 L231.6 505.7 L232 494.5 L234.1 494.5 L234.3 512.25 L236.1 508.17 L237.5 505 L237.9 497.5 L240.2 497.5 L241.4 515.64 L242.6 518.58 L242.9 519.31 L243.1 519.8 L243.7 523.3 L244.7 529.13 L244.9 530.3 L245.5 556.2 L245.6 556.52 L246.7 560 L247.4 581.2 L249.2 583.05 L250.9 584.8 L252.7 584.8 L253.6 611.3 L254.5 615.59 L256.2 623.7 L257.1 632.55 L258 641.4 L258.9 644.13 L260.7 649.58 L261.5 652 L262.4 669.7 L263.3 683.9 L263.5 705 L265.3 719.6 L269 727 L269.9 728.8 L270.8 737 L271.7 745.2 L272.6 767.2 L274.5 771.87 L276.3 776.3 L278.1 782.37 L279 785.4 L280.9 796.4 L283.6 800.78 L285.4 803.7 L287.3 798.2 L289.5 798.2 L290 806.06 L290.9 820.2 L294.6 821.41 L296.4 822 L299.1 831.1 L300 833.48 L301.9 838.5 L303.7 839.38 L307.4 841.2 L309.2 843 L310.1 843.9 L314.7 845.49 L315.6 845.8 L317.4 851.3 L318.3 851.65 L322 853.1 L327.5 851.3 L331.1 852.2 L334.8 856.7 L343.9 856.7 L349.4 858.6 L352 859.5 L352 861.5 L349.4 860.6 L343.9 858.7 L334.8 858.7 L331.1 856.04 L327.5 855.36 L322 855.59 L318.3 854.68 L317.4 853.73 L315.6 849.91 L314.7 848.98 L310.1 846.48 L309.2 845.76 L307.4 844.69 L303.7 843.23 L301.9 841.8 L300 838.65 L299.1 836.79 L296.4 830.42 L294.6 828.36 L290.9 826.96 L290 821.08 L289.5 817.59 L287.3 816.04 L285.4 816.9 L283.6 810.21 L280.9 803 L279 791.15 L278.1 786.41 L276.3 781.79 L274.5 777.83 L272.6 772.57 L271.7 762.17 L270.8 757.28 L269.9 746.86 L269 739 L265.3 732.8 L263.5 719.63 L263.3 710.37 L262.4 701.03 L261.5 690.28 L260.7 670.17 L258.9 655.27 L258 652.05 L257.1 646.38 L256.2 639.89 L254.5 631.08 L253.6 623.51 L252.7 607.06 L250.9 604.34 L249.2 601.08 L247.4 591.99 L246.7 585.38 L245.6 581.41 L245.5 579.23 L244.9 565.11 L244.7 560 L243.7 558.5 L243.1 556.77 L242.9 556.2 L242.6 531.5 L241.4 529.2 L240.2 529.2 L237.9 529.2 L237.5 529.98 L236.1 532.7 L234.3 535 L234.1 534.9 L232 533.9 L231.6 535.18 L229.1 543.2 L228.5 545.85 L227.3 551.15 L226.7 553.8 L225 558.5 L224.6 556.93 L222.6 549.1 L222.3 551.85 L221.4 560.11 L220.3 570.2 L219.1 573.33 L216.7 575.71 L216.2 578.11 L215.7 580.32 L214.8 589.23 L212.6 590.11 L212.2 590.43 L210.4 596.46 L207.7 600.78 L206.9 609.2 L205 616.49 L203.3 617 L202.4 625.49 L201.5 640.16 L200.7 646.63 L198 653.64 L197.1 655.25 L196.2 661.99 L195.4 662.77 L191.8 667.98 L188.3 676.12 L187.4 669.42 L185.6 670.82 L184.7 674.5 L183 689.56 L180.3 700.21 L179.4 702.55 L177.7 712 L176.6 719.21 L175.9 722.73 L172.2 725.46 L171.3 726.9 L168.7 735.85 L167.8 739.18 L165.1 750.88 L162.5 761.84 L160.7 768.68 L159.8 767.82 L158.1 765.74 L152.7 772.1 L151.9 785.56 L150.1 793.17 L148.3 792.66 L144.8 793.68 L143 794.56 L140.4 799.14 L137.7 808.92 L133.3 813.83 L130.6 813.73 L129.7 815.74 L127.1 826.02 L126.5 827.83 L124.4 831.66 L123.5 833.87 L123 833.94 L121.3 832.84 L119.6 834.87 L118.7 836.47 L116.1 841.64 L112.7 843.03 L110.9 843.41 L109.2 848.74 L102.3 851.16 L99.7 853.4 L97.1 852.72 L91.9 852.82 L90.2 853.18 L85 854.37 L79.8 855.15 L74.6 856.18 L66 857.3 L60.8 856.75 L55.6 857.3 L50.4 858.2 L45.2 859 L42.8 858.1Z" class="c3f"/>
<path d="M42.8 858.43H43.8V856.63H44.8V858.58H45.8V856.98H46.8V858.56H47.8V858.59H48.8V856.62H49.8V856.59H50.8V857.9H51.8V856.03H52.8V857.73H53.8V855.75H54.8V857.55H55.8V857.38H56.8V857.3H57.8V855.24H58.8V855.06H59.8V854.67H60.8V857.02H61.8V857.14H62.8V857.14H63.8V854.93H64.8V857.2H65.8V855.27H66.8V857.01H67.8V857.02H68.8V856.91H69.8V854.58H70.8V856.81H71.8V854.21H72.8V854.04H73.8V853.87H74.8V853.57H75.8V856.15H76.8V853.1H77.8V856.03H78.8V855.51H79.8V855.42H80.8V852.08H81.8V851.59H82.8V851.47H83.8V851.36H84.8V854.66H85.8V850.83H86.8V854.05H87.8V849.48H88.8V853.59H89.8V848.83H90.8V853.34H91.8V852.99H92.8V853.48H93.8V847.1H94.8V853.36H95.8V847.07H96.8V853.6H97.8V853.43H98.8V853.79H99.8V854.31H100.8V847.06H101.8V847.63H102.8V847.46H103.8V851.44H104.8V844.57H105.8V850.99H106.8V843.15H107.8V840.89H108.8V840.83H109.8V847.99H110.8V839.17H111.8V843.2H112.8V843.19H113.8V843.3H114.8V836.63H115.8V836.01H116.8V840.29H117.8V832.65H118.8V837.12H119.8V829.23H120.8V833.92H121.8V827.48H122.8V834.18H123.8V826.16H124.8V824.1H125.8V829.1H126.8V820.82H127.8V824.34H128.8V813.28H129.8V815.87H130.8V814.28H131.8V813.9H132.8V810.96H133.8V810.13H134.8V807.83H135.8V805.32H136.8V810.83H137.8V809.13H138.8V797.12H139.8V794.1H140.8V791.24H141.8V797.93H142.8V785.04H143.8V795H144.8V783.92H145.8V794.33H146.8V784.59H147.8V792.75H148.8V794.31H149.8V793.52H150.8V790.76H151.8V788.45H152.8V756.26H153.8V770.68H154.8V757.11H155.8V769.27H156.8V756.87H157.8V766.53H158.8V757.46H159.8V757.06H160.8V756.05H161.8V756.13H162.8V753.83H163.8V750.78H164.8V752.99H165.8V743.71H166.8V743.63H167.8V734.97H168.8V731.26H169.8V728.26H170.8V729.05H171.8V721.41H172.8V719.35H173.8V719.04H174.8V723.78H175.8V716.71H176.8V717.86H177.8V713.13H178.8V686.8H179.8V702.03H180.8V678.67H181.8V676.3H182.8V690.71H183.8V665.28H184.8V677.06H185.8V651.87H186.8V671.94H187.8V660.2H188.8V675.09H189.8V666.27H190.8V663.27H191.8V668.32H192.8V658.81H193.8V665.69H194.8V656.39H195.8V662.8H196.8V644.45H197.8V655.7H198.8V633.54H199.8V629.39H200.8V623.97H201.8V638.15H202.8V597.19H203.8V597.91H204.8V597.22H205.8V614.22H206.8V614.38H207.8V580.48H208.8V601.63H209.8V573.82H210.8V595.64H211.8V594.99H212.8V567.49H213.8V591.59H214.8V560.46H215.8V574.17H216.8V550.76H217.8V548.21H218.8V543.44H219.8V533.84H220.8V523.81H221.8V554.41H222.8V544.76H223.8V551.11H224.8V509.44H225.8V513.8H226.8V551.81H227.8V519.5H228.8V508.83H229.8V507.16H230.8V537.53H231.8V528.63H232.8V496.48H233.8V532.77H234.8V512.24H235.8V531.44H236.8V507.09H237.8V527.75H238.8V501.62H239.8V499.45H240.8V514.32H241.8V516.76H242.8V520.93H243.8V555.25H244.8V531.35H245.8V558.33H246.8V563.09H247.8V583.34H248.8V584.04H249.8V586.15H250.8V586.43H251.8V607.49H252.8V609.12H253.8V625.25H254.8V619.44H255.8V639.45H256.8V630.8H257.8V651.93H258.8V644.42H259.8V665.18H260.8V672.95H261.8V660.26H262.8V706.35H263.8V722.85H264.8V716.98H265.8V721.23H266.8V736.11H267.8V726.1H268.8V740.3H269.8V730.07H270.8V738.12H271.8V763.62H272.8V768.17H273.8V776.45H274.8V773.16H275.8V780.67H276.8V778.02H277.8V786.28H278.8V790.56H279.8V796.68H280.8V796.43H281.8V805.76H282.8V809.15H283.8V812.02H284.8V804.51H285.8V804.55H286.8V801.8H287.8V816.28H288.8V798.38H289.8V804.19H290.8V826.29H291.8V820.57H292.8V821.6H293.8V821.85H294.8V829.1H295.8V829.79H296.8V832.19H297.8V834.54H298.8V836.41H299.8V838.89H300.8V836.25H301.8V838.67H302.8V842.71H303.8V839.94H304.8V840.14H305.8V840.56H306.8V844.71H307.8V845.43H308.8V845.9H309.8V846.4H310.8V844.4H311.8V847.68H312.8V848.06H313.8V845.26H314.8V845.95H315.8V850.88H316.8V849.67H317.8V854.22H318.8V855.1H319.8V852.33H320.8V853H321.8V855.75H322.8V852.87H323.8V855.88H324.8V852.72H325.8V855.78H326.8V851.72H327.8V855.58H328.8V856.27H329.8V851.99H330.8V856.52H331.8V853.33H332.8V857.27H333.8V857.73H334.8V856.77H335.8V856.91H336.8V858.68H337.8V856.74H338.8V856.86H339.8V858.47H340.8V858.5H341.8V858.73H342.8V856.95H343.8V856.71H344.8V857.19H345.8V857.64H346.8V857.92H347.8V859.93H348.8V858.45H349.8V860.57H350.8V859.32H351.8V861.17H352.8" class="c3"/>
<path d="M42.8 856H44.3V856.05H45.8V854.54H47.3V856.68H48.8V856.45H50.3V856.22H51.8V853.14H53.3V855.7H54.8V855.44H56.3V855.18H57.8V854.92H59.3V854.66H60.8V854.4H62.3V854.66H63.8V852.35H65.3V855.18H66.8V854.27H68.3V854.85H69.8V854.04H71.3V854.25H72.8V853.96H74.3V853.66H75.8V853.18H77.3V852.67H78.8V852.15H80.3V850.54H81.8V851.34H83.3V850.99H84.8V850H86.3V850.05H87.8V847.06H89.3V848.78H90.8V848.17H92.3V847.61H93.8V847.04H95.3V846.48H96.8V845.91H98.3V845.64H99.8V846.68H101.3V847.17H102.8V846.88H104.3V845.01H105.8V842.38H107.3V838.35H108.8V839.4H110.3V837H111.8V838.23H113.3V837.54H114.8V834.57H116.3V833.08H117.8V830.25H119.3V828.49H120.8V827.9H122.3V827.15H123.8V823.36H125.3V822.63H126.8V820.45H128.3V812.98H129.8V809.35H131.3V810.06H132.8V810.76H134.3V808.59H135.8V804.98H137.3V801.36H138.8V795.87H140.3V792.16H141.8V787.4H143.3V783.6H144.8V783.6H146.3V781.1H147.8V783.6H149.3V782.61H150.8V774.88H152.3V757.99H153.8V756.2H155.3V756.2H156.8V756.2H158.3V756.2H159.8V756.2H161.3V755.2H162.8V753.38H164.3V748.31H165.8V741.6H167.3V734.02H168.8V731.07H170.3V724.8H171.8V721.21H173.3V718.68H174.8V717.02H176.3V708.82H177.8V693.56H179.3V679.54H180.8V675.84H182.3V672.88H183.8V661.95H185.3V651.2H186.8V651.2H188.3V669.7H189.8V665.54H191.3V661.39H192.8V658.59H194.3V656.48H195.8V654.36H197.3V637.21H198.8V632.04H200.3V626.88H201.8V605.94H203.3V595.41H204.8V594.87H206.3V584.81H207.8V576.75H209.3V572.16H210.8V568.42H212.3V566.99H213.8V561.63H215.3V555.3H216.8V549.31H218.3V543.32H219.8V533.75H221.3V516.29H222.8V476.3H224.3V476.3H225.8V506.9H227.3V522.52H228.8V505.7H230.3V503.19H231.8V493.03H233.3V494.5H234.8V511.11H236.3V507.72H237.8V497.5H239.3V497.5H240.8V514.17H242.3V517.84H243.8V523.88H245.3V546.14H246.8V563.03H248.3V580.2H249.8V581.77H251.3V583.84H252.8V587.74H254.3V614.64H255.8V621.79H257.3V634.52H258.8V643.82H260.3V648.37H261.8V657.9H263.3V683.9H264.8V715.54H266.3V721.6H267.8V722.37H269.3V727.6H270.8V737H272.3V759.87H273.8V770.15H275.3V773.84H276.8V777H278.3V783.04H279.8V790.03H281.3V797.05H282.8V797.07H284.3V800.17H285.8V801.29H287.3V798.2H288.8V795.31H290.3V810.77H291.8V820.49H293.3V820.99H294.8V821.48H296.3V821.97H297.8V826.72H299.3V831.63H300.8V833.58H302.3V838.12H303.8V839.43H305.3V837.37H306.8V838.13H308.3V839.81H309.8V841.36H311.3V843.24H312.8V841.88H314.3V845.35H315.8V846.41H317.3V850.99H318.8V851.85H320.3V850.39H321.8V851.66H323.3V851.61H324.8V852.18H326.3V850.36H327.8V850.21H329.3V851.75H330.8V849.2H332.3V853.09H333.8V853.7H335.3V855.2H336.8V856.7H338.3V856.7H339.8V854H341.3V856.7H342.8V856.7H344.3V856.84H345.8V857.36H347.3V857.87H348.8V858.39H350.3V858.22H351.8V856.81H352" class="c3e"/>
<path d="M42.8 858.45H44.3V858.33H45.8V858.22H47.3V859H48.8V858.02H50.3V859H51.8V859H53.3V859H54.8V857.59H56.3V857.48H57.8V857.37H59.3V857.26H60.8V857.15H62.3V857.19H63.8V858.16H65.3V857.28H66.8V857.24H68.3V857.12H69.8V857H71.3V856.88H72.8V857.7H74.3V859H75.8V856.4H77.3V856.14H78.8V855.88H80.3V857.99H81.8V855.44H83.3V855.23H84.8V855.02H86.3V854.74H87.8V854.45H89.3V856.09H90.8V853.87H92.3V855.23H93.8V853.74H95.3V856.62H96.8V853.86H98.3V855.97H99.8V855.83H101.3V854.84H102.8V851.67H104.3V851.37H105.8V852.86H107.3V850.76H108.8V850.46H110.3V848.87H111.8V844.05H113.3V844.58H114.8V843.14H116.3V844.25H117.8V840.65H119.3V836.45H120.8V835.32H122.3V835.96H123.8V835.13H125.3V831.25H126.8V828H128.3V824.37H129.8V816.54H131.3V815.26H132.8V814.32H134.3V815.35H135.8V812.05H137.3V810.7H138.8V808.16H140.3V800.72H141.8V798.22H143.3V798.23H144.8V797.57H146.3V795.35H147.8V794.34H149.3V796.02H150.8V792.63H152.3V782.01H153.8V775.79H155.3V771.18H156.8V770.33H158.3V769.77H159.8V769.76H161.3V768.27H162.8V761.77H164.3V757.04H165.8V748.68H167.3V742.08H168.8V736.24H170.3V731.04H171.8V728.69H173.3V725.64H174.8V726.05H176.3V724.18H177.8V714.43H179.3V708.7H180.8V703.49H182.3V695.56H183.8V685.89H185.3V675.52H186.8V673.96H188.3V677.19H189.8V673.81H191.3V672.05H192.8V667.86H194.3V667.84H195.8V663.72H197.3V657.84H198.8V654.82H200.3V651.14H201.8V642.26H203.3V621.98H204.8V619.92H206.3V616.72H207.8V604.6H209.3V602.56H210.8V601.25H212.3V594.25H213.8V593.35H215.3V583.35H216.8V570.73H218.3V572.43H219.8V571.51H221.3V562.12H222.8V549.88H224.3V557.38H225.8V556.29H227.3V551.15H228.8V544.52H230.3V539.35H231.8V534.54H233.3V535.77H234.8V535.6H236.3V532.31H237.8V529.39H239.3V529.2H240.8V529.2H242.3V530.93H243.8V558.65H245.3V572.18H246.8V582.8H248.3V597.61H249.8V605.33H251.3V608.31H252.8V612.41H254.3V633.66H255.8V640.49H257.3V649.83H258.8V659.28H260.3V671.09H261.8V702.64H263.3V714.78H264.8V732.44H266.3V739.18H267.8V740.16H269.3V743.96H270.8V762.62H272.3V770.64H273.8V776.85H275.3V780.55H276.8V783.92H278.3V788.2H279.8V797.16H281.3V805.24H282.8V809.51H284.3V814.63H285.8V819.08H287.3V819.01H288.8V820.24H290.3V825.09H291.8V828.44H293.3V829.02H294.8V831.64H296.3V831.7H297.8V834.89H299.3V839.83H300.8V841.88H302.3V842.69H303.8V845.95H305.3V844.48H306.8V845.04H308.3V845.74H309.8V848.24H311.3V847.6H312.8V848.47H314.3V849.33H315.8V852.57H317.3V853.94H318.8V857.82H320.3V855.63H321.8V857.98H323.3V858.19H324.8V856.02H326.3V856.03H327.8V858.91H329.3V858.27H330.8V858.15H332.3V858.01H333.8V857.85H335.3V858.32H336.8V858.42H338.3V859H339.8V859H341.3V858.73H342.8V858.84H344.3V859H345.8V859H347.3V859.5H348.8V859.76H350.3V859.86H351.8V859.85H352" class="c3e"/>
<text class="cd" x="396.2" y="511.3" textLength="66.6" lengthAdjust="spacingAndGlyphs">CD61</text>
</svg>
</body></html>
